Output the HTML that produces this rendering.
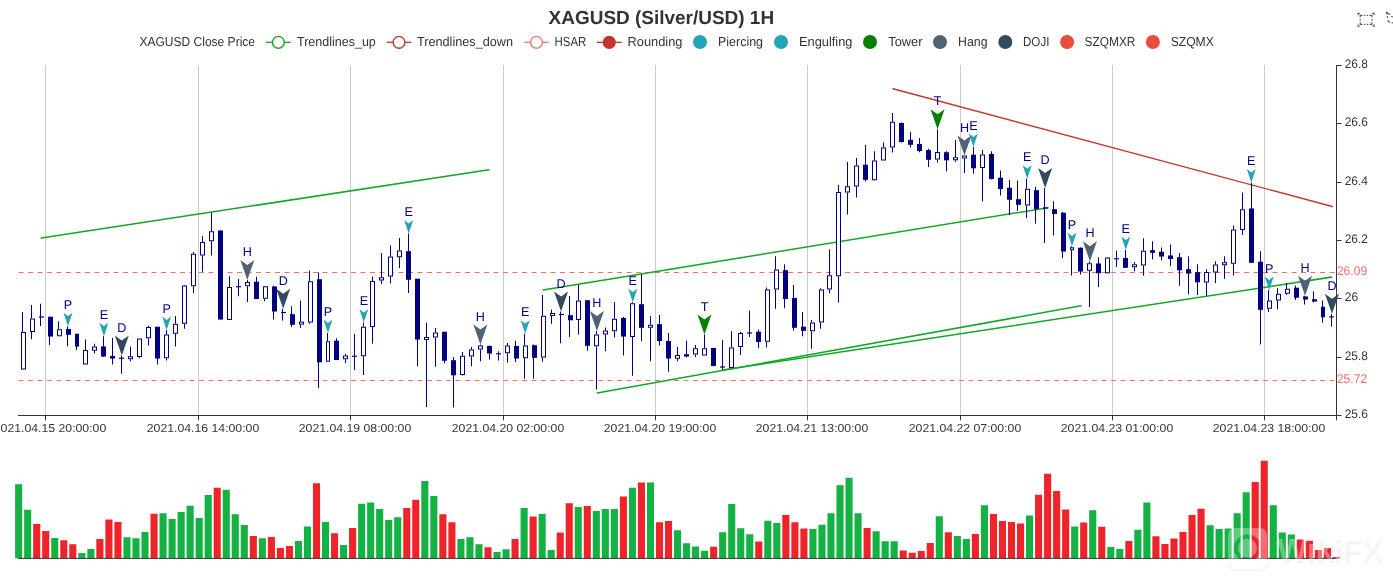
<!DOCTYPE html>
<html><head><meta charset="utf-8"><title>XAGUSD (Silver/USD) 1H</title>
<style>
html,body{margin:0;padding:0;background:#fff;}
body{width:1393px;height:585px;overflow:hidden;font-family:"Liberation Sans",sans-serif;}
svg{display:block;font-family:"Liberation Sans",sans-serif;}
text{text-rendering:geometricPrecision;}
</style></head><body>
<svg width="1393" height="585" viewBox="0 0 1393 585" style="will-change:transform;opacity:0.999">
<rect width="1393" height="585" fill="#fff"/>
<line x1="45.50" y1="65" x2="45.50" y2="415" stroke="#ccc" stroke-width="1"/>
<line x1="198.50" y1="65" x2="198.50" y2="415" stroke="#ccc" stroke-width="1"/>
<line x1="350.50" y1="65" x2="350.50" y2="415" stroke="#ccc" stroke-width="1"/>
<line x1="503.50" y1="65" x2="503.50" y2="415" stroke="#ccc" stroke-width="1"/>
<line x1="655.50" y1="65" x2="655.50" y2="415" stroke="#ccc" stroke-width="1"/>
<line x1="807.50" y1="65" x2="807.50" y2="415" stroke="#ccc" stroke-width="1"/>
<line x1="960.50" y1="65" x2="960.50" y2="415" stroke="#ccc" stroke-width="1"/>
<line x1="1112.50" y1="65" x2="1112.50" y2="415" stroke="#ccc" stroke-width="1"/>
<line x1="1264.50" y1="65" x2="1264.50" y2="415" stroke="#ccc" stroke-width="1"/>
<line x1="18" y1="415.5" x2="1337" y2="415.5" stroke="#333" stroke-width="1"/>
<line x1="45.50" y1="415.5" x2="45.50" y2="420.3" stroke="#333" stroke-width="1"/>
<line x1="198.50" y1="415.5" x2="198.50" y2="420.3" stroke="#333" stroke-width="1"/>
<line x1="350.50" y1="415.5" x2="350.50" y2="420.3" stroke="#333" stroke-width="1"/>
<line x1="503.50" y1="415.5" x2="503.50" y2="420.3" stroke="#333" stroke-width="1"/>
<line x1="655.50" y1="415.5" x2="655.50" y2="420.3" stroke="#333" stroke-width="1"/>
<line x1="807.50" y1="415.5" x2="807.50" y2="420.3" stroke="#333" stroke-width="1"/>
<line x1="960.50" y1="415.5" x2="960.50" y2="420.3" stroke="#333" stroke-width="1"/>
<line x1="1112.50" y1="415.5" x2="1112.50" y2="420.3" stroke="#333" stroke-width="1"/>
<line x1="1264.50" y1="415.5" x2="1264.50" y2="420.3" stroke="#333" stroke-width="1"/>
<line x1="1336.5" y1="415.5" x2="1336.5" y2="420.3" stroke="#333" stroke-width="1"/>
<text x="50.00" y="431.8" text-anchor="middle" font-size="11.6" fill="#333" textLength="112.5" lengthAdjust="spacingAndGlyphs">2021.04.15 20:00:00</text>
<text x="203.00" y="431.8" text-anchor="middle" font-size="11.6" fill="#333" textLength="112.5" lengthAdjust="spacingAndGlyphs">2021.04.16 14:00:00</text>
<text x="355.00" y="431.8" text-anchor="middle" font-size="11.6" fill="#333" textLength="112.5" lengthAdjust="spacingAndGlyphs">2021.04.19 08:00:00</text>
<text x="508.00" y="431.8" text-anchor="middle" font-size="11.6" fill="#333" textLength="112.5" lengthAdjust="spacingAndGlyphs">2021.04.20 02:00:00</text>
<text x="660.00" y="431.8" text-anchor="middle" font-size="11.6" fill="#333" textLength="112.5" lengthAdjust="spacingAndGlyphs">2021.04.20 19:00:00</text>
<text x="812.00" y="431.8" text-anchor="middle" font-size="11.6" fill="#333" textLength="112.5" lengthAdjust="spacingAndGlyphs">2021.04.21 13:00:00</text>
<text x="965.00" y="431.8" text-anchor="middle" font-size="11.6" fill="#333" textLength="112.5" lengthAdjust="spacingAndGlyphs">2021.04.22 07:00:00</text>
<text x="1117.00" y="431.8" text-anchor="middle" font-size="11.6" fill="#333" textLength="112.5" lengthAdjust="spacingAndGlyphs">2021.04.23 01:00:00</text>
<text x="1269.00" y="431.8" text-anchor="middle" font-size="11.6" fill="#333" textLength="112.5" lengthAdjust="spacingAndGlyphs">2021.04.23 18:00:00</text>
<line x1="1336.5" y1="65" x2="1336.5" y2="416" stroke="#333" stroke-width="1"/>
<line x1="1336.5" y1="415.50" x2="1341.5" y2="415.50" stroke="#333" stroke-width="1"/>
<text x="1344.7" y="418.00" font-size="12.5" fill="#333" textLength="23.3" lengthAdjust="spacingAndGlyphs">25.6</text>
<line x1="1336.5" y1="357.50" x2="1341.5" y2="357.50" stroke="#333" stroke-width="1"/>
<text x="1344.7" y="360.00" font-size="12.5" fill="#333" textLength="23.3" lengthAdjust="spacingAndGlyphs">25.8</text>
<line x1="1336.5" y1="298.50" x2="1341.5" y2="298.50" stroke="#333" stroke-width="1"/>
<text x="1344.7" y="301.00" font-size="12.5" fill="#333" textLength="13.4" lengthAdjust="spacingAndGlyphs">26</text>
<line x1="1336.5" y1="240.50" x2="1341.5" y2="240.50" stroke="#333" stroke-width="1"/>
<text x="1344.7" y="243.00" font-size="12.5" fill="#333" textLength="23.3" lengthAdjust="spacingAndGlyphs">26.2</text>
<line x1="1336.5" y1="182.50" x2="1341.5" y2="182.50" stroke="#333" stroke-width="1"/>
<text x="1344.7" y="185.00" font-size="12.5" fill="#333" textLength="23.3" lengthAdjust="spacingAndGlyphs">26.4</text>
<line x1="1336.5" y1="123.50" x2="1341.5" y2="123.50" stroke="#333" stroke-width="1"/>
<text x="1344.7" y="126.00" font-size="12.5" fill="#333" textLength="23.3" lengthAdjust="spacingAndGlyphs">26.6</text>
<line x1="1336.5" y1="65.50" x2="1341.5" y2="65.50" stroke="#333" stroke-width="1"/>
<text x="1344.7" y="68.00" font-size="12.5" fill="#333" textLength="23.3" lengthAdjust="spacingAndGlyphs">26.8</text>
<line x1="18.5" y1="272.5" x2="1337" y2="272.5" stroke="#ff6b6b" stroke-width="1" stroke-dasharray="5,4.5"/>
<text x="1336.9" y="275.20" font-size="12.6" fill="#ff6b6b" textLength="30.2" lengthAdjust="spacingAndGlyphs">26.09</text>
<line x1="18.5" y1="380.5" x2="1337" y2="380.5" stroke="#ff6b6b" stroke-width="1" stroke-dasharray="5,4.5"/>
<text x="1336.9" y="383.20" font-size="12.6" fill="#ff6b6b" textLength="30.2" lengthAdjust="spacingAndGlyphs">25.72</text>
<line x1="41.25" y1="238" x2="489" y2="169.8" stroke="#12a825" stroke-width="1.55" stroke-linecap="round"/>
<line x1="543" y1="290" x2="1048" y2="207.7" stroke="#12a825" stroke-width="1.55" stroke-linecap="round"/>
<line x1="597.25" y1="393" x2="1081" y2="305.75" stroke="#12a825" stroke-width="1.55" stroke-linecap="round"/>
<line x1="723" y1="370" x2="1331.4" y2="277.13" stroke="#12a825" stroke-width="1.55" stroke-linecap="round"/>
<line x1="893" y1="88.75" x2="1332.25" y2="206.5" stroke="#c0392b" stroke-width="1.35" stroke-linecap="round"/>
<line x1="22.5" y1="312.0" x2="22.5" y2="332.0" stroke="#000080" stroke-width="1"/>
<rect x="21.5" y="332.50" width="4.0" height="36.50" fill="#fff" stroke="#000080" stroke-width="1"/>
<line x1="31.5" y1="305.0" x2="31.5" y2="318.5" stroke="#000080" stroke-width="1"/>
<line x1="31.5" y1="332.0" x2="31.5" y2="339.25" stroke="#000080" stroke-width="1"/>
<rect x="30.5" y="319.00" width="4.0" height="12.50" fill="#fff" stroke="#000080" stroke-width="1"/>
<line x1="40.5" y1="303.75" x2="40.5" y2="326.0" stroke="#000080" stroke-width="1"/>
<line x1="39.0" y1="317.0" x2="44.0" y2="317.0" stroke="#000080" stroke-width="1.2"/>
<line x1="49.5" y1="317.0" x2="49.5" y2="345.0" stroke="#000080" stroke-width="1"/>
<rect x="48.0" y="316.70" width="5.0" height="19.85" fill="#000080"/>
<line x1="58.5" y1="321.25" x2="58.5" y2="329.25" stroke="#000080" stroke-width="1"/>
<rect x="57.5" y="329.75" width="4.0" height="6.00" fill="#fff" stroke="#000080" stroke-width="1"/>
<line x1="67.5" y1="326.25" x2="67.5" y2="346.25" stroke="#000080" stroke-width="1"/>
<rect x="66.0" y="328.95" width="5.0" height="5.85" fill="#000080"/>
<line x1="76.5" y1="334.0" x2="76.5" y2="350.0" stroke="#000080" stroke-width="1"/>
<rect x="75.0" y="333.70" width="4.0" height="12.85" fill="#000080"/>
<line x1="85.5" y1="339.5" x2="85.5" y2="350.0" stroke="#000080" stroke-width="1"/>
<rect x="83.5" y="350.50" width="4.0" height="13.50" fill="#fff" stroke="#000080" stroke-width="1"/>
<line x1="94.5" y1="343.75" x2="94.5" y2="346.5" stroke="#000080" stroke-width="1"/>
<line x1="94.5" y1="350.75" x2="94.5" y2="353.5" stroke="#000080" stroke-width="1"/>
<rect x="92.5" y="347.00" width="4.0" height="3.25" fill="#fff" stroke="#000080" stroke-width="1"/>
<line x1="103.5" y1="336.25" x2="103.5" y2="357.0" stroke="#000080" stroke-width="1"/>
<rect x="101.0" y="346.45" width="5.0" height="10.10" fill="#000080"/>
<line x1="112.5" y1="338.0" x2="112.5" y2="364.5" stroke="#000080" stroke-width="1"/>
<rect x="110.0" y="355.95" width="5.0" height="2.60" fill="#000080"/>
<line x1="121.5" y1="355.5" x2="121.5" y2="373.75" stroke="#000080" stroke-width="1"/>
<line x1="119.0" y1="358.25" x2="124.0" y2="358.25" stroke="#000080" stroke-width="1.2"/>
<line x1="130.5" y1="346.5" x2="130.5" y2="356.25" stroke="#000080" stroke-width="1"/>
<line x1="130.5" y1="359.25" x2="130.5" y2="361.25" stroke="#000080" stroke-width="1"/>
<rect x="128.5" y="356.75" width="4.0" height="2.00" fill="#fff" stroke="#000080" stroke-width="1"/>
<line x1="139.5" y1="357.0" x2="139.5" y2="358.25" stroke="#000080" stroke-width="1"/>
<rect x="137.5" y="339.00" width="4.0" height="17.50" fill="#fff" stroke="#000080" stroke-width="1"/>
<line x1="148.5" y1="325.75" x2="148.5" y2="327.0" stroke="#000080" stroke-width="1"/>
<line x1="148.5" y1="338.25" x2="148.5" y2="345.5" stroke="#000080" stroke-width="1"/>
<rect x="146.5" y="327.50" width="4.0" height="10.25" fill="#fff" stroke="#000080" stroke-width="1"/>
<line x1="157.5" y1="327.0" x2="157.5" y2="364.5" stroke="#000080" stroke-width="1"/>
<rect x="155.0" y="326.70" width="5.0" height="31.85" fill="#000080"/>
<line x1="166.5" y1="330.0" x2="166.5" y2="334.5" stroke="#000080" stroke-width="1"/>
<line x1="166.5" y1="358.25" x2="166.5" y2="360.5" stroke="#000080" stroke-width="1"/>
<rect x="164.5" y="335.00" width="4.0" height="22.75" fill="#fff" stroke="#000080" stroke-width="1"/>
<line x1="175.5" y1="316.0" x2="175.5" y2="323.75" stroke="#000080" stroke-width="1"/>
<line x1="175.5" y1="333.75" x2="175.5" y2="346.5" stroke="#000080" stroke-width="1"/>
<rect x="173.5" y="324.25" width="4.0" height="9.00" fill="#fff" stroke="#000080" stroke-width="1"/>
<line x1="184.5" y1="285.0" x2="184.5" y2="285.5" stroke="#000080" stroke-width="1"/>
<line x1="184.5" y1="323.75" x2="184.5" y2="328.75" stroke="#000080" stroke-width="1"/>
<rect x="182.5" y="286.00" width="4.0" height="37.25" fill="#fff" stroke="#000080" stroke-width="1"/>
<line x1="193.5" y1="252.0" x2="193.5" y2="253.75" stroke="#000080" stroke-width="1"/>
<line x1="193.5" y1="286.25" x2="193.5" y2="293.25" stroke="#000080" stroke-width="1"/>
<rect x="191.5" y="254.25" width="4.0" height="31.50" fill="#fff" stroke="#000080" stroke-width="1"/>
<line x1="202.5" y1="236.25" x2="202.5" y2="242.0" stroke="#000080" stroke-width="1"/>
<line x1="202.5" y1="255.5" x2="202.5" y2="271.75" stroke="#000080" stroke-width="1"/>
<rect x="200.5" y="242.50" width="4.0" height="12.50" fill="#fff" stroke="#000080" stroke-width="1"/>
<line x1="211.5" y1="212.5" x2="211.5" y2="231.25" stroke="#000080" stroke-width="1"/>
<line x1="211.5" y1="241.25" x2="211.5" y2="255.5" stroke="#000080" stroke-width="1"/>
<rect x="209.5" y="231.75" width="4.0" height="9.00" fill="#fff" stroke="#000080" stroke-width="1"/>
<line x1="220.5" y1="230.75" x2="220.5" y2="319.5" stroke="#000080" stroke-width="1"/>
<rect x="218.0" y="230.45" width="5.0" height="89.10" fill="#000080"/>
<line x1="229.5" y1="276.25" x2="229.5" y2="287.0" stroke="#000080" stroke-width="1"/>
<rect x="227.5" y="287.50" width="4.0" height="32.00" fill="#fff" stroke="#000080" stroke-width="1"/>
<line x1="238.5" y1="278.75" x2="238.5" y2="296.25" stroke="#000080" stroke-width="1"/>
<line x1="236.0" y1="286.75" x2="241.0" y2="286.75" stroke="#000080" stroke-width="1.2"/>
<line x1="247.5" y1="280.0" x2="247.5" y2="282.0" stroke="#000080" stroke-width="1"/>
<line x1="247.5" y1="286.25" x2="247.5" y2="302.0" stroke="#000080" stroke-width="1"/>
<rect x="245.5" y="282.50" width="4.0" height="3.25" fill="#fff" stroke="#000080" stroke-width="1"/>
<line x1="256.5" y1="276.75" x2="256.5" y2="298.75" stroke="#000080" stroke-width="1"/>
<rect x="254.0" y="281.70" width="5.0" height="17.35" fill="#000080"/>
<line x1="264.5" y1="298.75" x2="264.5" y2="301.25" stroke="#000080" stroke-width="1"/>
<rect x="263.5" y="286.75" width="4.0" height="11.50" fill="#fff" stroke="#000080" stroke-width="1"/>
<line x1="273.5" y1="285.75" x2="273.5" y2="319.5" stroke="#000080" stroke-width="1"/>
<rect x="272.0" y="286.45" width="5.0" height="25.10" fill="#000080"/>
<line x1="282.5" y1="308.75" x2="282.5" y2="320.5" stroke="#000080" stroke-width="1"/>
<line x1="281.0" y1="312.5" x2="286.0" y2="312.5" stroke="#000080" stroke-width="1.2"/>
<line x1="291.5" y1="306.25" x2="291.5" y2="327.0" stroke="#000080" stroke-width="1"/>
<rect x="290.0" y="314.20" width="5.0" height="10.60" fill="#000080"/>
<line x1="300.5" y1="300.5" x2="300.5" y2="321.625" stroke="#000080" stroke-width="1"/>
<line x1="300.5" y1="324.625" x2="300.5" y2="328.0" stroke="#000080" stroke-width="1"/>
<rect x="299.5" y="322.12" width="4.0" height="2.00" fill="#fff" stroke="#000080" stroke-width="1"/>
<line x1="309.5" y1="270.75" x2="309.5" y2="281.25" stroke="#000080" stroke-width="1"/>
<line x1="309.5" y1="322.5" x2="309.5" y2="323.75" stroke="#000080" stroke-width="1"/>
<rect x="308.5" y="281.75" width="4.0" height="40.25" fill="#fff" stroke="#000080" stroke-width="1"/>
<line x1="318.5" y1="272.5" x2="318.5" y2="388.0" stroke="#000080" stroke-width="1"/>
<rect x="317.0" y="279.20" width="5.0" height="83.10" fill="#000080"/>
<line x1="327.5" y1="333.0" x2="327.5" y2="341.25" stroke="#000080" stroke-width="1"/>
<line x1="327.5" y1="361.75" x2="327.5" y2="362.0" stroke="#000080" stroke-width="1"/>
<rect x="326.5" y="341.75" width="3.0" height="19.50" fill="#fff" stroke="#000080" stroke-width="1"/>
<line x1="336.5" y1="338.25" x2="336.5" y2="360.0" stroke="#000080" stroke-width="1"/>
<rect x="334.0" y="340.70" width="5.0" height="19.35" fill="#000080"/>
<line x1="345.5" y1="353.75" x2="345.5" y2="355.5" stroke="#000080" stroke-width="1"/>
<line x1="345.5" y1="359.25" x2="345.5" y2="363.0" stroke="#000080" stroke-width="1"/>
<rect x="343.5" y="356.00" width="4.0" height="2.75" fill="#fff" stroke="#000080" stroke-width="1"/>
<line x1="354.5" y1="333.75" x2="354.5" y2="370.0" stroke="#000080" stroke-width="1"/>
<line x1="352.0" y1="356.25" x2="357.0" y2="356.25" stroke="#000080" stroke-width="1.2"/>
<line x1="363.5" y1="322.5" x2="363.5" y2="326.75" stroke="#000080" stroke-width="1"/>
<line x1="363.5" y1="356.25" x2="363.5" y2="375.0" stroke="#000080" stroke-width="1"/>
<rect x="361.5" y="327.25" width="4.0" height="28.50" fill="#fff" stroke="#000080" stroke-width="1"/>
<line x1="372.5" y1="276.5" x2="372.5" y2="281.0" stroke="#000080" stroke-width="1"/>
<line x1="372.5" y1="327.0" x2="372.5" y2="343.75" stroke="#000080" stroke-width="1"/>
<rect x="370.5" y="281.50" width="4.0" height="45.00" fill="#fff" stroke="#000080" stroke-width="1"/>
<line x1="381.5" y1="253.0" x2="381.5" y2="277.25" stroke="#000080" stroke-width="1"/>
<line x1="381.5" y1="280.5" x2="381.5" y2="284.0" stroke="#000080" stroke-width="1"/>
<rect x="379.5" y="277.75" width="4.0" height="2.25" fill="#fff" stroke="#000080" stroke-width="1"/>
<line x1="390.5" y1="245.5" x2="390.5" y2="256.5" stroke="#000080" stroke-width="1"/>
<line x1="390.5" y1="276.5" x2="390.5" y2="283.5" stroke="#000080" stroke-width="1"/>
<rect x="388.5" y="257.00" width="4.0" height="19.00" fill="#fff" stroke="#000080" stroke-width="1"/>
<line x1="399.5" y1="238.0" x2="399.5" y2="250.5" stroke="#000080" stroke-width="1"/>
<line x1="399.5" y1="257.25" x2="399.5" y2="268.0" stroke="#000080" stroke-width="1"/>
<rect x="397.5" y="251.00" width="4.0" height="5.75" fill="#fff" stroke="#000080" stroke-width="1"/>
<line x1="408.5" y1="233.5" x2="408.5" y2="293.0" stroke="#000080" stroke-width="1"/>
<rect x="406.0" y="251.20" width="5.0" height="28.60" fill="#000080"/>
<line x1="417.5" y1="279.0" x2="417.5" y2="366.25" stroke="#000080" stroke-width="1"/>
<rect x="415.0" y="278.70" width="5.0" height="60.85" fill="#000080"/>
<line x1="426.5" y1="322.5" x2="426.5" y2="337.0" stroke="#000080" stroke-width="1"/>
<line x1="426.5" y1="340.0" x2="426.5" y2="407.0" stroke="#000080" stroke-width="1"/>
<rect x="424.5" y="337.50" width="4.0" height="2.00" fill="#fff" stroke="#000080" stroke-width="1"/>
<line x1="435.5" y1="328.0" x2="435.5" y2="332.5" stroke="#000080" stroke-width="1"/>
<line x1="435.5" y1="337.5" x2="435.5" y2="366.75" stroke="#000080" stroke-width="1"/>
<rect x="433.5" y="333.00" width="4.0" height="4.00" fill="#fff" stroke="#000080" stroke-width="1"/>
<line x1="444.5" y1="332.0" x2="444.5" y2="363.25" stroke="#000080" stroke-width="1"/>
<rect x="442.0" y="331.70" width="5.0" height="29.10" fill="#000080"/>
<line x1="453.5" y1="357.0" x2="453.5" y2="407.5" stroke="#000080" stroke-width="1"/>
<rect x="451.0" y="360.20" width="5.0" height="15.10" fill="#000080"/>
<line x1="462.5" y1="352.0" x2="462.5" y2="355.75" stroke="#000080" stroke-width="1"/>
<line x1="462.5" y1="375.0" x2="462.5" y2="375.5" stroke="#000080" stroke-width="1"/>
<rect x="460.5" y="356.25" width="4.0" height="18.25" fill="#fff" stroke="#000080" stroke-width="1"/>
<line x1="471.5" y1="347.0" x2="471.5" y2="349.5" stroke="#000080" stroke-width="1"/>
<line x1="471.5" y1="356.5" x2="471.5" y2="366.25" stroke="#000080" stroke-width="1"/>
<rect x="469.5" y="350.00" width="4.0" height="6.00" fill="#fff" stroke="#000080" stroke-width="1"/>
<line x1="480.5" y1="344.5" x2="480.5" y2="345.5" stroke="#000080" stroke-width="1"/>
<line x1="480.5" y1="349.5" x2="480.5" y2="361.25" stroke="#000080" stroke-width="1"/>
<rect x="478.5" y="346.00" width="4.0" height="3.00" fill="#fff" stroke="#000080" stroke-width="1"/>
<line x1="489.5" y1="345.5" x2="489.5" y2="359.5" stroke="#000080" stroke-width="1"/>
<rect x="487.0" y="345.95" width="5.0" height="7.60" fill="#000080"/>
<line x1="498.5" y1="351.25" x2="498.5" y2="360.5" stroke="#000080" stroke-width="1"/>
<line x1="496.0" y1="353.75" x2="501.0" y2="353.75" stroke="#000080" stroke-width="1.2"/>
<line x1="507.5" y1="343.0" x2="507.5" y2="345.5" stroke="#000080" stroke-width="1"/>
<line x1="507.5" y1="353.25" x2="507.5" y2="362.5" stroke="#000080" stroke-width="1"/>
<rect x="505.5" y="346.00" width="4.0" height="6.75" fill="#fff" stroke="#000080" stroke-width="1"/>
<line x1="515.5" y1="340.75" x2="515.5" y2="362.0" stroke="#000080" stroke-width="1"/>
<rect x="514.0" y="345.95" width="5.0" height="12.60" fill="#000080"/>
<line x1="524.5" y1="333.75" x2="524.5" y2="345.5" stroke="#000080" stroke-width="1"/>
<line x1="524.5" y1="358.25" x2="524.5" y2="378.75" stroke="#000080" stroke-width="1"/>
<rect x="523.5" y="346.00" width="4.0" height="11.75" fill="#fff" stroke="#000080" stroke-width="1"/>
<line x1="533.5" y1="344.5" x2="533.5" y2="378.75" stroke="#000080" stroke-width="1"/>
<rect x="532.0" y="345.20" width="5.0" height="12.60" fill="#000080"/>
<line x1="542.5" y1="295.0" x2="542.5" y2="315.75" stroke="#000080" stroke-width="1"/>
<line x1="542.5" y1="357.5" x2="542.5" y2="361.75" stroke="#000080" stroke-width="1"/>
<rect x="541.5" y="316.25" width="4.0" height="40.75" fill="#fff" stroke="#000080" stroke-width="1"/>
<line x1="551.5" y1="309.5" x2="551.5" y2="313.0" stroke="#000080" stroke-width="1"/>
<line x1="551.5" y1="316.0" x2="551.5" y2="323.75" stroke="#000080" stroke-width="1"/>
<rect x="550.5" y="313.50" width="4.0" height="2.00" fill="#fff" stroke="#000080" stroke-width="1"/>
<line x1="560.5" y1="311.5" x2="560.5" y2="343.25" stroke="#000080" stroke-width="1"/>
<line x1="559.0" y1="314.5" x2="564.0" y2="314.5" stroke="#000080" stroke-width="1.2"/>
<line x1="569.5" y1="296.0" x2="569.5" y2="337.0" stroke="#000080" stroke-width="1"/>
<rect x="568.0" y="315.20" width="5.0" height="5.10" fill="#000080"/>
<line x1="578.5" y1="284.75" x2="578.5" y2="300.5" stroke="#000080" stroke-width="1"/>
<line x1="578.5" y1="320.0" x2="578.5" y2="334.5" stroke="#000080" stroke-width="1"/>
<rect x="576.5" y="301.00" width="4.0" height="18.50" fill="#fff" stroke="#000080" stroke-width="1"/>
<line x1="587.5" y1="300.5" x2="587.5" y2="350.75" stroke="#000080" stroke-width="1"/>
<rect x="585.0" y="300.20" width="5.0" height="45.60" fill="#000080"/>
<line x1="596.5" y1="331.0" x2="596.5" y2="334.5" stroke="#000080" stroke-width="1"/>
<line x1="596.5" y1="346.25" x2="596.5" y2="389.5" stroke="#000080" stroke-width="1"/>
<rect x="594.5" y="335.00" width="4.0" height="10.75" fill="#fff" stroke="#000080" stroke-width="1"/>
<line x1="605.5" y1="327.5" x2="605.5" y2="330.5" stroke="#000080" stroke-width="1"/>
<line x1="605.5" y1="334.5" x2="605.5" y2="351.25" stroke="#000080" stroke-width="1"/>
<rect x="603.5" y="331.00" width="4.0" height="3.00" fill="#fff" stroke="#000080" stroke-width="1"/>
<line x1="614.5" y1="302.0" x2="614.5" y2="318.75" stroke="#000080" stroke-width="1"/>
<line x1="614.5" y1="331.25" x2="614.5" y2="337.5" stroke="#000080" stroke-width="1"/>
<rect x="612.5" y="319.25" width="4.0" height="11.50" fill="#fff" stroke="#000080" stroke-width="1"/>
<line x1="623.5" y1="317.0" x2="623.5" y2="355.5" stroke="#000080" stroke-width="1"/>
<rect x="621.0" y="317.95" width="5.0" height="18.60" fill="#000080"/>
<line x1="632.5" y1="302.25" x2="632.5" y2="303.25" stroke="#000080" stroke-width="1"/>
<line x1="632.5" y1="337.0" x2="632.5" y2="375.75" stroke="#000080" stroke-width="1"/>
<rect x="630.5" y="303.75" width="4.0" height="32.75" fill="#fff" stroke="#000080" stroke-width="1"/>
<line x1="641.5" y1="274.0" x2="641.5" y2="341.25" stroke="#000080" stroke-width="1"/>
<rect x="639.0" y="304.20" width="5.0" height="23.60" fill="#000080"/>
<line x1="650.5" y1="316.25" x2="650.5" y2="324.75" stroke="#000080" stroke-width="1"/>
<line x1="650.5" y1="327.75" x2="650.5" y2="361.25" stroke="#000080" stroke-width="1"/>
<rect x="648.5" y="325.25" width="4.0" height="2.00" fill="#fff" stroke="#000080" stroke-width="1"/>
<line x1="659.5" y1="315.0" x2="659.5" y2="345.5" stroke="#000080" stroke-width="1"/>
<rect x="657.0" y="324.20" width="5.0" height="16.85" fill="#000080"/>
<line x1="668.5" y1="333.0" x2="668.5" y2="371.75" stroke="#000080" stroke-width="1"/>
<rect x="666.0" y="340.95" width="5.0" height="17.60" fill="#000080"/>
<line x1="677.5" y1="347.0" x2="677.5" y2="355.0" stroke="#000080" stroke-width="1"/>
<line x1="677.5" y1="358.75" x2="677.5" y2="361.25" stroke="#000080" stroke-width="1"/>
<rect x="675.5" y="355.50" width="4.0" height="2.75" fill="#fff" stroke="#000080" stroke-width="1"/>
<line x1="686.5" y1="340.75" x2="686.5" y2="357.5" stroke="#000080" stroke-width="1"/>
<rect x="684.0" y="354.20" width="5.0" height="2.35" fill="#000080"/>
<line x1="695.5" y1="345.0" x2="695.5" y2="348.25" stroke="#000080" stroke-width="1"/>
<line x1="695.5" y1="354.5" x2="695.5" y2="357.0" stroke="#000080" stroke-width="1"/>
<rect x="693.5" y="348.75" width="4.0" height="5.25" fill="#fff" stroke="#000080" stroke-width="1"/>
<line x1="704.5" y1="334.5" x2="704.5" y2="348.25" stroke="#000080" stroke-width="1"/>
<rect x="702.5" y="348.75" width="4.0" height="6.25" fill="#fff" stroke="#000080" stroke-width="1"/>
<line x1="713.5" y1="348.25" x2="713.5" y2="366.0" stroke="#000080" stroke-width="1"/>
<rect x="711.0" y="347.95" width="5.0" height="18.10" fill="#000080"/>
<line x1="722.5" y1="340.0" x2="722.5" y2="370.0" stroke="#000080" stroke-width="1"/>
<line x1="720.0" y1="367.0" x2="725.0" y2="367.0" stroke="#000080" stroke-width="1.2"/>
<line x1="731.5" y1="331.25" x2="731.5" y2="347.5" stroke="#000080" stroke-width="1"/>
<rect x="729.5" y="348.00" width="4.0" height="19.50" fill="#fff" stroke="#000080" stroke-width="1"/>
<line x1="740.5" y1="332.0" x2="740.5" y2="333.0" stroke="#000080" stroke-width="1"/>
<line x1="740.5" y1="347.0" x2="740.5" y2="355.0" stroke="#000080" stroke-width="1"/>
<rect x="738.5" y="333.50" width="4.0" height="13.00" fill="#fff" stroke="#000080" stroke-width="1"/>
<line x1="749.5" y1="310.75" x2="749.5" y2="337.0" stroke="#000080" stroke-width="1"/>
<line x1="747.0" y1="333.0" x2="752.0" y2="333.0" stroke="#000080" stroke-width="1.2"/>
<line x1="758.5" y1="329.5" x2="758.5" y2="348.0" stroke="#000080" stroke-width="1"/>
<rect x="756.0" y="331.70" width="5.0" height="10.35" fill="#000080"/>
<line x1="766.5" y1="287.5" x2="766.5" y2="289.5" stroke="#000080" stroke-width="1"/>
<line x1="766.5" y1="341.75" x2="766.5" y2="347.5" stroke="#000080" stroke-width="1"/>
<rect x="765.5" y="290.00" width="4.0" height="51.25" fill="#fff" stroke="#000080" stroke-width="1"/>
<line x1="775.5" y1="256.25" x2="775.5" y2="269.5" stroke="#000080" stroke-width="1"/>
<line x1="775.5" y1="289.5" x2="775.5" y2="308.75" stroke="#000080" stroke-width="1"/>
<rect x="774.5" y="270.00" width="4.0" height="19.00" fill="#fff" stroke="#000080" stroke-width="1"/>
<line x1="784.5" y1="264.25" x2="784.5" y2="308.25" stroke="#000080" stroke-width="1"/>
<rect x="783.0" y="270.20" width="5.0" height="28.85" fill="#000080"/>
<line x1="793.5" y1="285.0" x2="793.5" y2="330.5" stroke="#000080" stroke-width="1"/>
<rect x="792.0" y="297.95" width="5.0" height="29.85" fill="#000080"/>
<line x1="802.5" y1="312.0" x2="802.5" y2="336.25" stroke="#000080" stroke-width="1"/>
<rect x="801.0" y="326.70" width="5.0" height="4.10" fill="#000080"/>
<line x1="811.5" y1="320.0" x2="811.5" y2="322.5" stroke="#000080" stroke-width="1"/>
<line x1="811.5" y1="331.25" x2="811.5" y2="348.75" stroke="#000080" stroke-width="1"/>
<rect x="810.5" y="323.00" width="4.0" height="7.75" fill="#fff" stroke="#000080" stroke-width="1"/>
<line x1="820.5" y1="288.25" x2="820.5" y2="289.5" stroke="#000080" stroke-width="1"/>
<line x1="820.5" y1="322.5" x2="820.5" y2="328.75" stroke="#000080" stroke-width="1"/>
<rect x="819.5" y="290.00" width="4.0" height="32.00" fill="#fff" stroke="#000080" stroke-width="1"/>
<line x1="829.5" y1="249.5" x2="829.5" y2="275.25" stroke="#000080" stroke-width="1"/>
<line x1="829.5" y1="289.5" x2="829.5" y2="293.25" stroke="#000080" stroke-width="1"/>
<rect x="827.5" y="275.75" width="4.0" height="13.25" fill="#fff" stroke="#000080" stroke-width="1"/>
<line x1="838.5" y1="185.0" x2="838.5" y2="192.0" stroke="#000080" stroke-width="1"/>
<line x1="838.5" y1="276.25" x2="838.5" y2="302.5" stroke="#000080" stroke-width="1"/>
<rect x="836.5" y="192.50" width="4.0" height="83.25" fill="#fff" stroke="#000080" stroke-width="1"/>
<line x1="847.5" y1="162.0" x2="847.5" y2="186.25" stroke="#000080" stroke-width="1"/>
<line x1="847.5" y1="192.5" x2="847.5" y2="214.5" stroke="#000080" stroke-width="1"/>
<rect x="845.5" y="186.75" width="4.0" height="5.25" fill="#fff" stroke="#000080" stroke-width="1"/>
<line x1="856.5" y1="158.0" x2="856.5" y2="165.5" stroke="#000080" stroke-width="1"/>
<line x1="856.5" y1="186.5" x2="856.5" y2="197.5" stroke="#000080" stroke-width="1"/>
<rect x="854.5" y="166.00" width="4.0" height="20.00" fill="#fff" stroke="#000080" stroke-width="1"/>
<line x1="865.5" y1="145.0" x2="865.5" y2="181.5" stroke="#000080" stroke-width="1"/>
<rect x="863.0" y="164.70" width="5.0" height="15.10" fill="#000080"/>
<line x1="874.5" y1="151.25" x2="874.5" y2="160.5" stroke="#000080" stroke-width="1"/>
<line x1="874.5" y1="180.25" x2="874.5" y2="180.5" stroke="#000080" stroke-width="1"/>
<rect x="872.5" y="161.00" width="4.0" height="18.75" fill="#fff" stroke="#000080" stroke-width="1"/>
<line x1="883.5" y1="142.25" x2="883.5" y2="147.5" stroke="#000080" stroke-width="1"/>
<rect x="881.5" y="148.00" width="4.0" height="12.00" fill="#fff" stroke="#000080" stroke-width="1"/>
<line x1="892.5" y1="113.0" x2="892.5" y2="121.75" stroke="#000080" stroke-width="1"/>
<line x1="892.5" y1="147.5" x2="892.5" y2="152.5" stroke="#000080" stroke-width="1"/>
<rect x="890.5" y="122.25" width="4.0" height="24.75" fill="#fff" stroke="#000080" stroke-width="1"/>
<line x1="901.5" y1="122.5" x2="901.5" y2="142.5" stroke="#000080" stroke-width="1"/>
<rect x="899.0" y="122.95" width="5.0" height="19.10" fill="#000080"/>
<line x1="910.5" y1="132.0" x2="910.5" y2="147.5" stroke="#000080" stroke-width="1"/>
<rect x="908.0" y="139.70" width="5.0" height="5.10" fill="#000080"/>
<line x1="919.5" y1="138.0" x2="919.5" y2="152.25" stroke="#000080" stroke-width="1"/>
<rect x="917.0" y="143.95" width="5.0" height="7.10" fill="#000080"/>
<line x1="928.5" y1="148.75" x2="928.5" y2="167.0" stroke="#000080" stroke-width="1"/>
<rect x="926.0" y="149.95" width="5.0" height="9.85" fill="#000080"/>
<line x1="937.5" y1="129.25" x2="937.5" y2="152.0" stroke="#000080" stroke-width="1"/>
<line x1="937.5" y1="159.5" x2="937.5" y2="162.5" stroke="#000080" stroke-width="1"/>
<rect x="935.5" y="152.50" width="4.0" height="6.50" fill="#fff" stroke="#000080" stroke-width="1"/>
<line x1="946.5" y1="151.25" x2="946.5" y2="171.25" stroke="#000080" stroke-width="1"/>
<rect x="944.0" y="152.20" width="5.0" height="8.10" fill="#000080"/>
<line x1="955.5" y1="140.0" x2="955.5" y2="157.25" stroke="#000080" stroke-width="1"/>
<line x1="955.5" y1="160.25" x2="955.5" y2="162.0" stroke="#000080" stroke-width="1"/>
<rect x="953.5" y="157.75" width="4.0" height="2.00" fill="#fff" stroke="#000080" stroke-width="1"/>
<line x1="964.5" y1="158.5" x2="964.5" y2="173.0" stroke="#000080" stroke-width="1"/>
<rect x="962.5" y="156.00" width="4.0" height="2.00" fill="#fff" stroke="#000080" stroke-width="1"/>
<line x1="973.5" y1="147.0" x2="973.5" y2="173.75" stroke="#000080" stroke-width="1"/>
<rect x="971.0" y="154.70" width="5.0" height="13.60" fill="#000080"/>
<line x1="982.5" y1="150.0" x2="982.5" y2="154.5" stroke="#000080" stroke-width="1"/>
<line x1="982.5" y1="168.0" x2="982.5" y2="201.25" stroke="#000080" stroke-width="1"/>
<rect x="980.5" y="155.00" width="4.0" height="12.50" fill="#fff" stroke="#000080" stroke-width="1"/>
<line x1="991.5" y1="151.25" x2="991.5" y2="179.5" stroke="#000080" stroke-width="1"/>
<rect x="989.0" y="153.95" width="5.0" height="25.10" fill="#000080"/>
<line x1="1000.5" y1="170.5" x2="1000.5" y2="195.5" stroke="#000080" stroke-width="1"/>
<rect x="998.0" y="177.70" width="5.0" height="11.35" fill="#000080"/>
<line x1="1009.5" y1="180.0" x2="1009.5" y2="215.0" stroke="#000080" stroke-width="1"/>
<rect x="1007.0" y="187.70" width="5.0" height="12.10" fill="#000080"/>
<line x1="1017.5" y1="180.5" x2="1017.5" y2="210.75" stroke="#000080" stroke-width="1"/>
<rect x="1016.0" y="199.20" width="5.0" height="5.60" fill="#000080"/>
<line x1="1026.5" y1="178.75" x2="1026.5" y2="188.75" stroke="#000080" stroke-width="1"/>
<line x1="1026.5" y1="205.5" x2="1026.5" y2="218.25" stroke="#000080" stroke-width="1"/>
<rect x="1025.5" y="189.25" width="4.0" height="15.75" fill="#fff" stroke="#000080" stroke-width="1"/>
<line x1="1035.5" y1="186.75" x2="1035.5" y2="223.75" stroke="#000080" stroke-width="1"/>
<rect x="1034.0" y="190.20" width="5.0" height="18.85" fill="#000080"/>
<line x1="1044.5" y1="188.0" x2="1044.5" y2="243.0" stroke="#000080" stroke-width="1"/>
<line x1="1043.0" y1="208.0" x2="1048.0" y2="208.0" stroke="#000080" stroke-width="1.2"/>
<line x1="1053.5" y1="201.25" x2="1053.5" y2="235.5" stroke="#000080" stroke-width="1"/>
<rect x="1052.0" y="209.20" width="5.0" height="4.85" fill="#000080"/>
<line x1="1062.5" y1="212.0" x2="1062.5" y2="258.25" stroke="#000080" stroke-width="1"/>
<rect x="1061.0" y="212.70" width="5.0" height="38.85" fill="#000080"/>
<line x1="1071.5" y1="246.25" x2="1071.5" y2="247.25" stroke="#000080" stroke-width="1"/>
<line x1="1071.5" y1="250.25" x2="1071.5" y2="275.5" stroke="#000080" stroke-width="1"/>
<rect x="1070.5" y="247.75" width="3.0" height="2.00" fill="#fff" stroke="#000080" stroke-width="1"/>
<line x1="1080.5" y1="247.5" x2="1080.5" y2="274.5" stroke="#000080" stroke-width="1"/>
<rect x="1078.0" y="247.70" width="5.0" height="23.85" fill="#000080"/>
<line x1="1089.5" y1="261.25" x2="1089.5" y2="263.25" stroke="#000080" stroke-width="1"/>
<line x1="1089.5" y1="270.75" x2="1089.5" y2="307.0" stroke="#000080" stroke-width="1"/>
<rect x="1087.5" y="263.75" width="4.0" height="6.50" fill="#fff" stroke="#000080" stroke-width="1"/>
<line x1="1098.5" y1="257.5" x2="1098.5" y2="287.0" stroke="#000080" stroke-width="1"/>
<rect x="1096.0" y="263.45" width="5.0" height="9.85" fill="#000080"/>
<line x1="1107.5" y1="257.0" x2="1107.5" y2="257.5" stroke="#000080" stroke-width="1"/>
<line x1="1107.5" y1="273.25" x2="1107.5" y2="273.5" stroke="#000080" stroke-width="1"/>
<rect x="1105.5" y="258.00" width="4.0" height="14.75" fill="#fff" stroke="#000080" stroke-width="1"/>
<line x1="1116.5" y1="250.5" x2="1116.5" y2="267.0" stroke="#000080" stroke-width="1"/>
<line x1="1114.0" y1="258.75" x2="1119.0" y2="258.75" stroke="#000080" stroke-width="1.2"/>
<line x1="1125.5" y1="250.0" x2="1125.5" y2="267.75" stroke="#000080" stroke-width="1"/>
<rect x="1123.0" y="257.95" width="5.0" height="9.85" fill="#000080"/>
<line x1="1134.5" y1="262.0" x2="1134.5" y2="264.25" stroke="#000080" stroke-width="1"/>
<line x1="1134.5" y1="267.25" x2="1134.5" y2="271.25" stroke="#000080" stroke-width="1"/>
<rect x="1132.5" y="264.75" width="4.0" height="2.00" fill="#fff" stroke="#000080" stroke-width="1"/>
<line x1="1143.5" y1="238.25" x2="1143.5" y2="250.75" stroke="#000080" stroke-width="1"/>
<line x1="1143.5" y1="265.5" x2="1143.5" y2="275.75" stroke="#000080" stroke-width="1"/>
<rect x="1141.5" y="251.25" width="4.0" height="13.75" fill="#fff" stroke="#000080" stroke-width="1"/>
<line x1="1152.5" y1="241.25" x2="1152.5" y2="259.5" stroke="#000080" stroke-width="1"/>
<rect x="1150.0" y="250.20" width="5.0" height="2.60" fill="#000080"/>
<line x1="1161.5" y1="247.5" x2="1161.5" y2="260.5" stroke="#000080" stroke-width="1"/>
<rect x="1159.0" y="251.70" width="5.0" height="4.85" fill="#000080"/>
<line x1="1170.5" y1="244.5" x2="1170.5" y2="266.25" stroke="#000080" stroke-width="1"/>
<rect x="1168.0" y="255.45" width="5.0" height="3.60" fill="#000080"/>
<line x1="1179.5" y1="253.0" x2="1179.5" y2="285.75" stroke="#000080" stroke-width="1"/>
<rect x="1177.0" y="257.20" width="5.0" height="13.10" fill="#000080"/>
<line x1="1188.5" y1="256.25" x2="1188.5" y2="294.25" stroke="#000080" stroke-width="1"/>
<rect x="1186.0" y="269.20" width="5.0" height="4.35" fill="#000080"/>
<line x1="1197.5" y1="264.25" x2="1197.5" y2="295.0" stroke="#000080" stroke-width="1"/>
<rect x="1195.0" y="272.20" width="5.0" height="10.10" fill="#000080"/>
<line x1="1206.5" y1="269.25" x2="1206.5" y2="272.0" stroke="#000080" stroke-width="1"/>
<line x1="1206.5" y1="282.5" x2="1206.5" y2="295.75" stroke="#000080" stroke-width="1"/>
<rect x="1204.5" y="272.50" width="4.0" height="9.50" fill="#fff" stroke="#000080" stroke-width="1"/>
<line x1="1215.5" y1="261.25" x2="1215.5" y2="264.5" stroke="#000080" stroke-width="1"/>
<line x1="1215.5" y1="272.5" x2="1215.5" y2="283.0" stroke="#000080" stroke-width="1"/>
<rect x="1213.5" y="265.00" width="4.0" height="7.00" fill="#fff" stroke="#000080" stroke-width="1"/>
<line x1="1224.5" y1="256.25" x2="1224.5" y2="262.25" stroke="#000080" stroke-width="1"/>
<line x1="1224.5" y1="265.25" x2="1224.5" y2="278.75" stroke="#000080" stroke-width="1"/>
<rect x="1222.5" y="262.75" width="4.0" height="2.00" fill="#fff" stroke="#000080" stroke-width="1"/>
<line x1="1233.5" y1="225.5" x2="1233.5" y2="229.5" stroke="#000080" stroke-width="1"/>
<line x1="1233.5" y1="263.75" x2="1233.5" y2="275.5" stroke="#000080" stroke-width="1"/>
<rect x="1231.5" y="230.00" width="4.0" height="33.25" fill="#fff" stroke="#000080" stroke-width="1"/>
<line x1="1242.5" y1="192.5" x2="1242.5" y2="209.25" stroke="#000080" stroke-width="1"/>
<line x1="1242.5" y1="230.0" x2="1242.5" y2="235.0" stroke="#000080" stroke-width="1"/>
<rect x="1240.5" y="209.75" width="4.0" height="19.75" fill="#fff" stroke="#000080" stroke-width="1"/>
<line x1="1251.5" y1="182.5" x2="1251.5" y2="263.0" stroke="#000080" stroke-width="1"/>
<rect x="1249.0" y="208.45" width="5.0" height="54.35" fill="#000080"/>
<line x1="1260.5" y1="251.25" x2="1260.5" y2="344.3" stroke="#000080" stroke-width="1"/>
<rect x="1258.0" y="261.70" width="5.0" height="48.10" fill="#000080"/>
<line x1="1268.5" y1="290.0" x2="1268.5" y2="300.5" stroke="#000080" stroke-width="1"/>
<line x1="1268.5" y1="308.75" x2="1268.5" y2="312.0" stroke="#000080" stroke-width="1"/>
<rect x="1267.5" y="301.00" width="4.0" height="7.25" fill="#fff" stroke="#000080" stroke-width="1"/>
<line x1="1277.5" y1="288.25" x2="1277.5" y2="293.75" stroke="#000080" stroke-width="1"/>
<line x1="1277.5" y1="300.5" x2="1277.5" y2="309.5" stroke="#000080" stroke-width="1"/>
<rect x="1276.5" y="294.25" width="4.0" height="5.75" fill="#fff" stroke="#000080" stroke-width="1"/>
<line x1="1286.5" y1="283.0" x2="1286.5" y2="288.75" stroke="#000080" stroke-width="1"/>
<line x1="1286.5" y1="293.75" x2="1286.5" y2="295.0" stroke="#000080" stroke-width="1"/>
<rect x="1285.5" y="289.25" width="4.0" height="4.00" fill="#fff" stroke="#000080" stroke-width="1"/>
<line x1="1295.5" y1="285.5" x2="1295.5" y2="300.0" stroke="#000080" stroke-width="1"/>
<rect x="1294.0" y="287.70" width="5.0" height="10.10" fill="#000080"/>
<line x1="1304.5" y1="295.75" x2="1304.5" y2="304.5" stroke="#000080" stroke-width="1"/>
<rect x="1303.0" y="296.45" width="5.0" height="3.10" fill="#000080"/>
<line x1="1313.5" y1="291.25" x2="1313.5" y2="302.5" stroke="#000080" stroke-width="1"/>
<rect x="1312.0" y="299.20" width="5.0" height="2.35" fill="#000080"/>
<line x1="1322.5" y1="300.5" x2="1322.5" y2="322.7" stroke="#000080" stroke-width="1"/>
<rect x="1321.0" y="306.70" width="4.0" height="10.60" fill="#000080"/>
<line x1="1331.5" y1="313.8" x2="1331.5" y2="326.6" stroke="#000080" stroke-width="1"/>
<line x1="1329.0" y1="316.9" x2="1334.0" y2="316.9" stroke="#000080" stroke-width="1.2"/>
<path d="M68.04 326.25L63.54 312.75L68.04 316.12L72.54 312.75Z" fill="#22a5b5"/>
<text x="68.04" y="308.75" text-anchor="middle" font-size="12.6" fill="#000080">P</text>
<path d="M166.64 330.00L162.14 316.50L166.64 319.88L171.14 316.50Z" fill="#22a5b5"/>
<text x="166.64" y="312.50" text-anchor="middle" font-size="12.6" fill="#000080">P</text>
<path d="M328.00 333.00L323.50 319.50L328.00 322.88L332.50 319.50Z" fill="#22a5b5"/>
<text x="328.00" y="315.50" text-anchor="middle" font-size="12.6" fill="#000080">P</text>
<path d="M1072.01 246.25L1067.51 232.75L1072.01 236.12L1076.51 232.75Z" fill="#22a5b5"/>
<text x="1072.01" y="228.75" text-anchor="middle" font-size="12.6" fill="#000080">P</text>
<path d="M1269.22 290.00L1264.72 276.50L1269.22 279.88L1273.72 276.50Z" fill="#22a5b5"/>
<text x="1269.22" y="272.50" text-anchor="middle" font-size="12.6" fill="#000080">P</text>
<path d="M103.90 336.25L99.40 322.75L103.90 326.12L108.40 322.75Z" fill="#22a5b5"/>
<text x="103.90" y="318.75" text-anchor="middle" font-size="12.6" fill="#000080">E</text>
<path d="M363.85 322.50L359.35 309.00L363.85 312.38L368.35 309.00Z" fill="#22a5b5"/>
<text x="363.85" y="305.00" text-anchor="middle" font-size="12.6" fill="#000080">E</text>
<path d="M408.67 233.50L404.17 220.00L408.67 223.38L413.17 220.00Z" fill="#22a5b5"/>
<text x="408.67" y="216.00" text-anchor="middle" font-size="12.6" fill="#000080">E</text>
<path d="M525.20 333.75L520.70 320.25L525.20 323.62L529.70 320.25Z" fill="#22a5b5"/>
<text x="525.20" y="316.25" text-anchor="middle" font-size="12.6" fill="#000080">E</text>
<path d="M632.77 302.25L628.27 288.75L632.77 292.12L637.27 288.75Z" fill="#22a5b5"/>
<text x="632.77" y="284.75" text-anchor="middle" font-size="12.6" fill="#000080">E</text>
<path d="M973.40 147.00L968.90 133.50L973.40 136.88L977.90 133.50Z" fill="#22a5b5"/>
<text x="973.40" y="129.50" text-anchor="middle" font-size="12.6" fill="#000080">E</text>
<path d="M1027.19 178.75L1022.69 165.25L1027.19 168.62L1031.69 165.25Z" fill="#22a5b5"/>
<text x="1027.19" y="161.25" text-anchor="middle" font-size="12.6" fill="#000080">E</text>
<path d="M1125.79 250.00L1121.29 236.50L1125.79 239.88L1130.29 236.50Z" fill="#22a5b5"/>
<text x="1125.79" y="232.50" text-anchor="middle" font-size="12.6" fill="#000080">E</text>
<path d="M1251.29 182.50L1246.79 169.00L1251.29 172.38L1255.79 169.00Z" fill="#22a5b5"/>
<text x="1251.29" y="165.00" text-anchor="middle" font-size="12.6" fill="#000080">E</text>
<path d="M121.82 355.50L114.82 335.50L121.82 340.50L128.82 335.50Z" fill="#34495e"/>
<text x="121.82" y="331.50" text-anchor="middle" font-size="12.6" fill="#000080">D</text>
<path d="M283.18 308.75L276.18 288.75L283.18 293.75L290.18 288.75Z" fill="#34495e"/>
<text x="283.18" y="284.75" text-anchor="middle" font-size="12.6" fill="#000080">D</text>
<path d="M561.06 311.50L554.06 291.50L561.06 296.50L568.06 291.50Z" fill="#34495e"/>
<text x="561.06" y="287.50" text-anchor="middle" font-size="12.6" fill="#000080">D</text>
<path d="M1045.12 188.00L1038.12 168.00L1045.12 173.00L1052.12 168.00Z" fill="#34495e"/>
<text x="1045.12" y="164.00" text-anchor="middle" font-size="12.6" fill="#000080">D</text>
<path d="M1331.96 313.80L1324.96 293.80L1331.96 298.80L1338.96 293.80Z" fill="#34495e"/>
<text x="1331.96" y="289.80" text-anchor="middle" font-size="12.6" fill="#000080">D</text>
<path d="M247.32 280.00L240.32 260.00L247.32 265.00L254.32 260.00Z" fill="#4f6373"/>
<text x="247.32" y="256.00" text-anchor="middle" font-size="12.6" fill="#000080">H</text>
<path d="M480.38 344.50L473.38 324.50L480.38 329.50L487.38 324.50Z" fill="#4f6373"/>
<text x="480.38" y="320.50" text-anchor="middle" font-size="12.6" fill="#000080">H</text>
<path d="M596.92 331.00L589.92 311.00L596.92 316.00L603.92 311.00Z" fill="#4f6373"/>
<text x="596.92" y="307.00" text-anchor="middle" font-size="12.6" fill="#000080">H</text>
<path d="M964.44 155.50L957.44 135.50L964.44 140.50L971.44 135.50Z" fill="#4f6373"/>
<text x="964.44" y="131.50" text-anchor="middle" font-size="12.6" fill="#000080">H</text>
<path d="M1089.94 261.25L1082.94 241.25L1089.94 246.25L1096.94 241.25Z" fill="#4f6373"/>
<text x="1089.94" y="237.25" text-anchor="middle" font-size="12.6" fill="#000080">H</text>
<path d="M1305.07 295.75L1298.07 275.75L1305.07 280.75L1312.07 275.75Z" fill="#4f6373"/>
<text x="1305.07" y="271.75" text-anchor="middle" font-size="12.6" fill="#000080">H</text>
<path d="M704.48 334.50L697.48 314.50L704.48 319.50L711.48 314.50Z" fill="#008000"/>
<text x="704.48" y="310.50" text-anchor="middle" font-size="12.6" fill="#000080">T</text>
<path d="M937.55 129.25L930.55 109.25L937.55 114.25L944.55 109.25Z" fill="#008000"/>
<text x="937.55" y="105.25" text-anchor="middle" font-size="12.6" fill="#000080">T</text>
<rect x="15.10" y="484.25" width="7.1" height="74.00" fill="#14b143"/>
<rect x="24.13" y="509.75" width="7.1" height="48.50" fill="#14b143"/>
<rect x="33.15" y="524.00" width="7.1" height="34.25" fill="#ef232a"/>
<rect x="42.18" y="531.00" width="7.1" height="27.25" fill="#ef232a"/>
<rect x="51.20" y="538.00" width="7.1" height="20.25" fill="#14b143"/>
<rect x="60.23" y="540.25" width="7.1" height="18.00" fill="#ef232a"/>
<rect x="69.26" y="544.25" width="7.1" height="14.00" fill="#ef232a"/>
<rect x="78.28" y="553.00" width="7.1" height="5.25" fill="#14b143"/>
<rect x="87.31" y="549.00" width="7.1" height="9.25" fill="#14b143"/>
<rect x="96.33" y="539.00" width="7.1" height="19.25" fill="#ef232a"/>
<rect x="105.36" y="519.50" width="7.1" height="38.75" fill="#ef232a"/>
<rect x="114.39" y="522.00" width="7.1" height="36.25" fill="#ef232a"/>
<rect x="123.41" y="537.25" width="7.1" height="21.00" fill="#14b143"/>
<rect x="132.44" y="538.25" width="7.1" height="20.00" fill="#14b143"/>
<rect x="141.46" y="532.00" width="7.1" height="26.25" fill="#14b143"/>
<rect x="150.49" y="513.75" width="7.1" height="44.50" fill="#ef232a"/>
<rect x="159.52" y="513.25" width="7.1" height="45.00" fill="#14b143"/>
<rect x="168.54" y="519.00" width="7.1" height="39.25" fill="#14b143"/>
<rect x="177.57" y="512.00" width="7.1" height="46.25" fill="#14b143"/>
<rect x="186.59" y="505.75" width="7.1" height="52.50" fill="#14b143"/>
<rect x="195.62" y="518.00" width="7.1" height="40.25" fill="#14b143"/>
<rect x="204.65" y="495.00" width="7.1" height="63.25" fill="#14b143"/>
<rect x="213.67" y="487.75" width="7.1" height="70.50" fill="#ef232a"/>
<rect x="222.70" y="489.75" width="7.1" height="68.50" fill="#14b143"/>
<rect x="231.72" y="514.25" width="7.1" height="44.00" fill="#14b143"/>
<rect x="240.75" y="525.00" width="7.1" height="33.25" fill="#14b143"/>
<rect x="249.78" y="536.00" width="7.1" height="22.25" fill="#ef232a"/>
<rect x="258.80" y="538.25" width="7.1" height="20.00" fill="#14b143"/>
<rect x="267.83" y="537.00" width="7.1" height="21.25" fill="#ef232a"/>
<rect x="276.85" y="548.00" width="7.1" height="10.25" fill="#ef232a"/>
<rect x="285.88" y="546.00" width="7.1" height="12.25" fill="#ef232a"/>
<rect x="294.91" y="541.00" width="7.1" height="17.25" fill="#14b143"/>
<rect x="303.93" y="526.50" width="7.1" height="31.75" fill="#14b143"/>
<rect x="312.96" y="483.25" width="7.1" height="75.00" fill="#ef232a"/>
<rect x="321.98" y="522.00" width="7.1" height="36.25" fill="#14b143"/>
<rect x="331.01" y="533.25" width="7.1" height="25.00" fill="#ef232a"/>
<rect x="340.04" y="545.00" width="7.1" height="13.25" fill="#14b143"/>
<rect x="349.06" y="528.00" width="7.1" height="30.25" fill="#ef232a"/>
<rect x="358.09" y="503.75" width="7.1" height="54.50" fill="#14b143"/>
<rect x="367.11" y="502.50" width="7.1" height="55.75" fill="#14b143"/>
<rect x="376.14" y="509.00" width="7.1" height="49.25" fill="#14b143"/>
<rect x="385.17" y="520.00" width="7.1" height="38.25" fill="#14b143"/>
<rect x="394.19" y="517.25" width="7.1" height="41.00" fill="#14b143"/>
<rect x="403.22" y="508.00" width="7.1" height="50.25" fill="#ef232a"/>
<rect x="412.24" y="499.75" width="7.1" height="58.50" fill="#ef232a"/>
<rect x="421.27" y="481.00" width="7.1" height="77.25" fill="#14b143"/>
<rect x="430.30" y="496.00" width="7.1" height="62.25" fill="#14b143"/>
<rect x="439.32" y="514.25" width="7.1" height="44.00" fill="#ef232a"/>
<rect x="448.35" y="522.25" width="7.1" height="36.00" fill="#ef232a"/>
<rect x="457.37" y="539.00" width="7.1" height="19.25" fill="#14b143"/>
<rect x="466.40" y="537.25" width="7.1" height="21.00" fill="#14b143"/>
<rect x="475.43" y="544.25" width="7.1" height="14.00" fill="#14b143"/>
<rect x="484.45" y="547.25" width="7.1" height="11.00" fill="#ef232a"/>
<rect x="493.48" y="552.00" width="7.1" height="6.25" fill="#14b143"/>
<rect x="502.50" y="549.25" width="7.1" height="9.00" fill="#14b143"/>
<rect x="511.53" y="539.00" width="7.1" height="19.25" fill="#ef232a"/>
<rect x="520.56" y="508.00" width="7.1" height="50.25" fill="#14b143"/>
<rect x="529.58" y="516.50" width="7.1" height="41.75" fill="#ef232a"/>
<rect x="538.61" y="514.00" width="7.1" height="44.25" fill="#14b143"/>
<rect x="547.63" y="550.00" width="7.1" height="8.25" fill="#14b143"/>
<rect x="556.66" y="532.50" width="7.1" height="25.75" fill="#ef232a"/>
<rect x="565.69" y="503.25" width="7.1" height="55.00" fill="#ef232a"/>
<rect x="574.71" y="507.00" width="7.1" height="51.25" fill="#14b143"/>
<rect x="583.74" y="506.00" width="7.1" height="52.25" fill="#ef232a"/>
<rect x="592.76" y="511.00" width="7.1" height="47.25" fill="#14b143"/>
<rect x="601.79" y="509.00" width="7.1" height="49.25" fill="#14b143"/>
<rect x="610.82" y="509.00" width="7.1" height="49.25" fill="#14b143"/>
<rect x="619.84" y="496.50" width="7.1" height="61.75" fill="#ef232a"/>
<rect x="628.87" y="487.75" width="7.1" height="70.50" fill="#14b143"/>
<rect x="637.89" y="482.50" width="7.1" height="75.75" fill="#ef232a"/>
<rect x="646.92" y="482.50" width="7.1" height="75.75" fill="#14b143"/>
<rect x="655.95" y="522.25" width="7.1" height="36.00" fill="#ef232a"/>
<rect x="664.97" y="521.00" width="7.1" height="37.25" fill="#ef232a"/>
<rect x="674.00" y="530.25" width="7.1" height="28.00" fill="#14b143"/>
<rect x="683.02" y="543.25" width="7.1" height="15.00" fill="#14b143"/>
<rect x="692.05" y="546.50" width="7.1" height="11.75" fill="#14b143"/>
<rect x="701.08" y="550.75" width="7.1" height="7.50" fill="#14b143"/>
<rect x="710.10" y="546.75" width="7.1" height="11.50" fill="#ef232a"/>
<rect x="719.13" y="532.25" width="7.1" height="26.00" fill="#14b143"/>
<rect x="728.15" y="504.00" width="7.1" height="54.25" fill="#14b143"/>
<rect x="737.18" y="528.25" width="7.1" height="30.00" fill="#14b143"/>
<rect x="746.21" y="534.25" width="7.1" height="24.00" fill="#14b143"/>
<rect x="755.23" y="541.50" width="7.1" height="16.75" fill="#ef232a"/>
<rect x="764.26" y="520.75" width="7.1" height="37.50" fill="#14b143"/>
<rect x="773.28" y="523.00" width="7.1" height="35.25" fill="#14b143"/>
<rect x="782.31" y="515.00" width="7.1" height="43.25" fill="#ef232a"/>
<rect x="791.34" y="522.25" width="7.1" height="36.00" fill="#ef232a"/>
<rect x="800.36" y="528.50" width="7.1" height="29.75" fill="#ef232a"/>
<rect x="809.39" y="529.00" width="7.1" height="29.25" fill="#14b143"/>
<rect x="818.41" y="524.75" width="7.1" height="33.50" fill="#14b143"/>
<rect x="827.44" y="513.25" width="7.1" height="45.00" fill="#14b143"/>
<rect x="836.47" y="485.25" width="7.1" height="73.00" fill="#14b143"/>
<rect x="845.49" y="477.75" width="7.1" height="80.50" fill="#14b143"/>
<rect x="854.52" y="513.25" width="7.1" height="45.00" fill="#14b143"/>
<rect x="863.54" y="528.00" width="7.1" height="30.25" fill="#ef232a"/>
<rect x="872.57" y="531.25" width="7.1" height="27.00" fill="#14b143"/>
<rect x="881.60" y="541.25" width="7.1" height="17.00" fill="#14b143"/>
<rect x="890.62" y="541.25" width="7.1" height="17.00" fill="#14b143"/>
<rect x="899.65" y="550.50" width="7.1" height="7.75" fill="#ef232a"/>
<rect x="908.67" y="552.75" width="7.1" height="5.50" fill="#ef232a"/>
<rect x="917.70" y="551.00" width="7.1" height="7.25" fill="#ef232a"/>
<rect x="926.73" y="543.00" width="7.1" height="15.25" fill="#ef232a"/>
<rect x="935.75" y="516.25" width="7.1" height="42.00" fill="#14b143"/>
<rect x="944.78" y="532.25" width="7.1" height="26.00" fill="#ef232a"/>
<rect x="953.80" y="536.00" width="7.1" height="22.25" fill="#14b143"/>
<rect x="962.83" y="539.00" width="7.1" height="19.25" fill="#14b143"/>
<rect x="971.86" y="534.00" width="7.1" height="24.25" fill="#ef232a"/>
<rect x="980.88" y="505.25" width="7.1" height="53.00" fill="#14b143"/>
<rect x="989.91" y="514.00" width="7.1" height="44.25" fill="#ef232a"/>
<rect x="998.93" y="521.00" width="7.1" height="37.25" fill="#ef232a"/>
<rect x="1007.96" y="522.00" width="7.1" height="36.25" fill="#ef232a"/>
<rect x="1016.99" y="523.50" width="7.1" height="34.75" fill="#ef232a"/>
<rect x="1026.01" y="515.50" width="7.1" height="42.75" fill="#14b143"/>
<rect x="1035.04" y="494.75" width="7.1" height="63.50" fill="#ef232a"/>
<rect x="1044.06" y="473.75" width="7.1" height="84.50" fill="#ef232a"/>
<rect x="1053.09" y="491.00" width="7.1" height="67.25" fill="#ef232a"/>
<rect x="1062.12" y="509.50" width="7.1" height="48.75" fill="#ef232a"/>
<rect x="1071.14" y="526.50" width="7.1" height="31.75" fill="#14b143"/>
<rect x="1080.17" y="522.50" width="7.1" height="35.75" fill="#ef232a"/>
<rect x="1089.19" y="510.25" width="7.1" height="48.00" fill="#14b143"/>
<rect x="1098.22" y="526.75" width="7.1" height="31.50" fill="#ef232a"/>
<rect x="1107.25" y="547.00" width="7.1" height="11.25" fill="#14b143"/>
<rect x="1116.27" y="549.00" width="7.1" height="9.25" fill="#14b143"/>
<rect x="1125.30" y="541.00" width="7.1" height="17.25" fill="#ef232a"/>
<rect x="1134.32" y="529.75" width="7.1" height="28.50" fill="#14b143"/>
<rect x="1143.35" y="502.50" width="7.1" height="55.75" fill="#14b143"/>
<rect x="1152.38" y="536.25" width="7.1" height="22.00" fill="#ef232a"/>
<rect x="1161.40" y="544.00" width="7.1" height="14.25" fill="#ef232a"/>
<rect x="1170.43" y="538.50" width="7.1" height="19.75" fill="#ef232a"/>
<rect x="1179.45" y="532.00" width="7.1" height="26.25" fill="#ef232a"/>
<rect x="1188.48" y="515.00" width="7.1" height="43.25" fill="#ef232a"/>
<rect x="1197.51" y="508.75" width="7.1" height="49.50" fill="#ef232a"/>
<rect x="1206.53" y="525.25" width="7.1" height="33.00" fill="#14b143"/>
<rect x="1215.56" y="529.00" width="7.1" height="29.25" fill="#14b143"/>
<rect x="1224.58" y="528.50" width="7.1" height="29.75" fill="#14b143"/>
<rect x="1233.61" y="513.25" width="7.1" height="45.00" fill="#14b143"/>
<rect x="1242.64" y="492.25" width="7.1" height="66.00" fill="#14b143"/>
<rect x="1251.66" y="482.00" width="7.1" height="76.25" fill="#ef232a"/>
<rect x="1260.69" y="460.75" width="7.1" height="97.50" fill="#ef232a"/>
<rect x="1269.71" y="505.25" width="7.1" height="53.00" fill="#14b143"/>
<rect x="1278.74" y="532.50" width="7.1" height="25.75" fill="#14b143"/>
<rect x="1287.77" y="534.50" width="7.1" height="23.75" fill="#14b143"/>
<rect x="1296.79" y="539.50" width="7.1" height="18.75" fill="#ef232a"/>
<rect x="1305.82" y="540.75" width="7.1" height="17.50" fill="#ef232a"/>
<rect x="1314.84" y="550.00" width="7.1" height="8.25" fill="#ef232a"/>
<rect x="1323.87" y="548.00" width="7.1" height="10.25" fill="#ef232a"/>
<rect x="1332.90" y="557.00" width="7.1" height="1.25" fill="#ef232a"/>
<line x1="18" y1="558.4" x2="1337.5" y2="558.4" stroke="#333" stroke-width="1"/>
<text x="139.5" y="46.3" font-size="13" fill="#333" textLength="115.5" lengthAdjust="spacingAndGlyphs">XAGUSD Close Price</text>
<line x1="266.0" y1="42.3" x2="290.79999999999995" y2="42.3" stroke="#12a825" stroke-width="1.3"/>
<circle cx="278.4" cy="42.3" r="5.9" fill="#fff" stroke="#12a825" stroke-width="1.4"/>
<text x="297" y="46.3" font-size="13" fill="#333" textLength="78.8" lengthAdjust="spacingAndGlyphs">Trendlines_up</text>
<line x1="386.6" y1="42.3" x2="411.4" y2="42.3" stroke="#c0392b" stroke-width="1.3"/>
<circle cx="399" cy="42.3" r="5.9" fill="#fff" stroke="#c0392b" stroke-width="1.4"/>
<text x="417" y="46.3" font-size="13" fill="#333" textLength="96.0" lengthAdjust="spacingAndGlyphs">Trendlines_down</text>
<line x1="524.1" y1="42.3" x2="548.9" y2="42.3" stroke="#ff7575" stroke-width="1.3"/>
<circle cx="536.5" cy="42.3" r="5.9" fill="#fff" stroke="#ff7575" stroke-width="1.4"/>
<text x="554.5" y="46.3" font-size="13" fill="#333" textLength="31.8" lengthAdjust="spacingAndGlyphs">HSAR</text>
<line x1="596.85" y1="42.3" x2="621.65" y2="42.3" stroke="#c23531" stroke-width="1.3"/>
<circle cx="609.25" cy="42.3" r="5.9" fill="#c23531" stroke="#c23531" stroke-width="1.4"/>
<text x="627.5" y="46.3" font-size="13" fill="#333" textLength="55.0" lengthAdjust="spacingAndGlyphs">Rounding</text>
<circle cx="700" cy="42" r="7" fill="#22a5b5"/>
<text x="718" y="46.3" font-size="13" fill="#333" textLength="45.0" lengthAdjust="spacingAndGlyphs">Piercing</text>
<circle cx="781" cy="42" r="7" fill="#22a5b5"/>
<text x="799" y="46.3" font-size="13" fill="#333" textLength="53.5" lengthAdjust="spacingAndGlyphs">Engulfing</text>
<circle cx="870" cy="42" r="7" fill="#008000"/>
<text x="888.25" y="46.3" font-size="13" fill="#333" textLength="34.2" lengthAdjust="spacingAndGlyphs">Tower</text>
<circle cx="940" cy="42" r="7" fill="#4f6373"/>
<text x="958" y="46.3" font-size="13" fill="#333" textLength="29.5" lengthAdjust="spacingAndGlyphs">Hang</text>
<circle cx="1005.3" cy="42" r="7" fill="#34495e"/>
<text x="1023" y="46.3" font-size="13" fill="#333" textLength="26.4" lengthAdjust="spacingAndGlyphs">DOJI</text>
<circle cx="1067.1" cy="42" r="7" fill="#e74c3c"/>
<text x="1084.6" y="46.3" font-size="13" fill="#333" textLength="50.8" lengthAdjust="spacingAndGlyphs">SZQMXR</text>
<circle cx="1152.9" cy="42" r="7" fill="#e74c3c"/>
<text x="1170.7" y="46.3" font-size="13" fill="#333" textLength="43.1" lengthAdjust="spacingAndGlyphs">SZQMX</text>
<text x="548.6" y="24.2" font-size="19" font-weight="bold" fill="#333" textLength="225.5" lengthAdjust="spacingAndGlyphs">XAGUSD (Silver/USD) 1H</text>
<g stroke="#5a5a5a" stroke-width="1.15" fill="none" stroke-linecap="butt"><path vector-effect="non-scaling-stroke" transform="translate(1358 13.4) scale(0.1794 0.1835)" d="M0.4,10V-0.2h9.8 M89.6,10V-0.2h-9.8 M0.4,60v10.2h9.8 M89.6,60v10.2h-9.8 M12.3,22.4V10.5h13.1 M33.6,10.5h7.8 M49.1,10.5h7.8 M77.5,22.4V10.5h-13.1 M12.3,31.1v8.2 M77.7,31.1v8.2 M12.3,47.6v11.9h13.1 M33.6,59.6h7.6 M49.1,59.6h7.8 M77.5,47.6v11.9h-13.1"/><path d="M1387 14.6L1386.6 12.5L1390.2 14.6M1391.2 16.2L1393 17.1M1387.3 16.1L1387.6 17.9M1387.9 19.9L1388.2 21.4L1390.2 22.6M1391.6 22.7L1393 22.9"/></g>
<g><path fill="#fff" fill-opacity="0.33" fill-rule="evenodd" d="M1235.5 528H1259.5Q1267 528 1267 535.5V561.5Q1267 569 1259.5 569H1235.5Q1228 569 1228 561.5V535.5Q1228 528 1235.5 528ZM1247.5 534.5A13.5 13.5 0 1 0 1247.5 561.5A13.5 13.5 0 1 0 1247.5 534.5ZM1247.5 538.5A9.5 9.5 0 1 1 1247.5 557.5A9.5 9.5 0 1 1 1247.5 538.5Z"/><path fill="none" stroke="#000" stroke-opacity="0.05" stroke-width="1.5" d="M1229 563Q1230 570 1236 570.2H1259Q1266.5 570 1267.8 563"/><text x="1278.6" y="562.5" font-size="32" font-weight="bold" fill="#000" fill-opacity="0.05" textLength="104.5" lengthAdjust="spacingAndGlyphs">WikiFX</text><text x="1277.6" y="561" font-size="32" font-weight="bold" fill="#fff" fill-opacity="0.36" textLength="104.5" lengthAdjust="spacingAndGlyphs">WikiFX</text></g>
</svg>
</body></html>
